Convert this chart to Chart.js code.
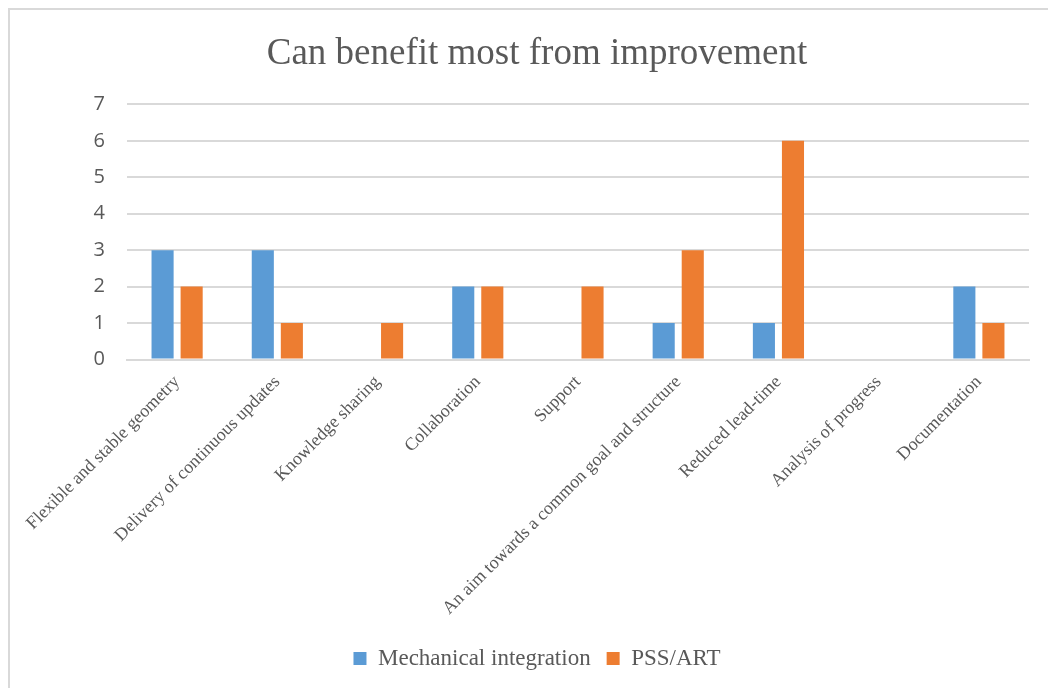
<!DOCTYPE html>
<html>
<head>
<meta charset="utf-8">
<script src="https://cdn.jsdelivr.net/npm/chart.js@4.4.0/dist/chart.umd.min.js"></script>
<style>
  html, body { margin: 0; padding: 0; background: #ffffff; }
  #wrap { position: relative; width: 1048px; height: 688px; }
</style>
</head>
<body>
<div id="wrap"><canvas id="improvement-chart" width="1048" height="688"></canvas></div>
<script>
// Categories and counts per group
const categories = [
  'Flexible and stable geometry',
  'Delivery of continuous updates',
  'Knowledge sharing',
  'Collaboration',
  'Support',
  'An aim towards a common goal and structure',
  'Reduced lead-time',
  'Analysis of progress',
  'Documentation'
];
const mechanicalIntegration = [3, 3, 0, 2, 0, 1, 1, 0, 2];
const pssArt = [2, 1, 1, 2, 2, 3, 6, 0, 1];
const yTicks = [0, 1, 2, 3, 4, 5, 6, 7];

const serif = "'Liberation Serif', 'DejaVu Serif', serif";
const sans = "'Open Sans', 'Liberation Sans', sans-serif";
const textColor = '#595959';

// light grey frame round the chart, open at right and bottom like a cropped chart box
const framePlugin = {
  id: 'frame',
  beforeDraw(chart) {
    const c = chart.ctx;
    c.save();
    c.fillStyle = '#ffffff';
    c.fillRect(0, 0, chart.width, chart.height);
    c.strokeStyle = '#d9d9d9';
    c.lineWidth = 2;
    c.strokeRect(9, 9, chart.width + 20, chart.height + 20);
    c.restore();
  }
};

new Chart(document.getElementById('improvement-chart'), {
  type: 'bar',
  data: {
    labels: categories,
    datasets: [
      {
        label: 'Mechanical integration',
        data: mechanicalIntegration,
        backgroundColor: '#5b9bd5',
        barPercentage: 0.76,
        categoryPercentage: 0.58
      },
      {
        label: 'PSS/ART',
        data: pssArt,
        backgroundColor: '#ed7d31',
        barPercentage: 0.76,
        categoryPercentage: 0.58
      }
    ]
  },
  options: {
    responsive: false,
    animation: false,
    layout: { padding: { left: 45, right: 19, top: 24, bottom: 8 } },
    plugins: {
      title: {
        display: true,
        text: 'Can benefit most from improvement',
        color: textColor,
        font: { family: serif, size: 37, weight: 'normal' },
        padding: { top: 8, bottom: 28 }
      },
      legend: {
        position: 'bottom',
        labels: {
          color: textColor,
          font: { family: serif, size: 23 },
          boxWidth: 13,
          boxHeight: 13,
          padding: 16
        }
      },
      tooltip: { enabled: false }
    },
    scales: {
      x: {
        grid: { display: false, drawTicks: false },
        border: { color: '#d9d9d9', width: 2 },
        ticks: {
          color: textColor,
          font: { family: serif, size: 18 },
          minRotation: 45,
          maxRotation: 45,
          autoSkip: false,
          padding: 12
        }
      },
      y: {
        min: 0,
        max: 7,
        afterBuildTicks(axis) { axis.ticks = yTicks.map(v => ({ value: v })); },
        afterFit(axis) { axis.width = 82; },
        grid: { color: '#d9d9d9', lineWidth: 2, drawTicks: false },
        border: { display: false },
        ticks: {
          color: textColor,
          font: { family: sans, size: 20 },
          padding: 22
        }
      }
    }
  },
  plugins: [framePlugin]
});
</script>
</body>
</html>
